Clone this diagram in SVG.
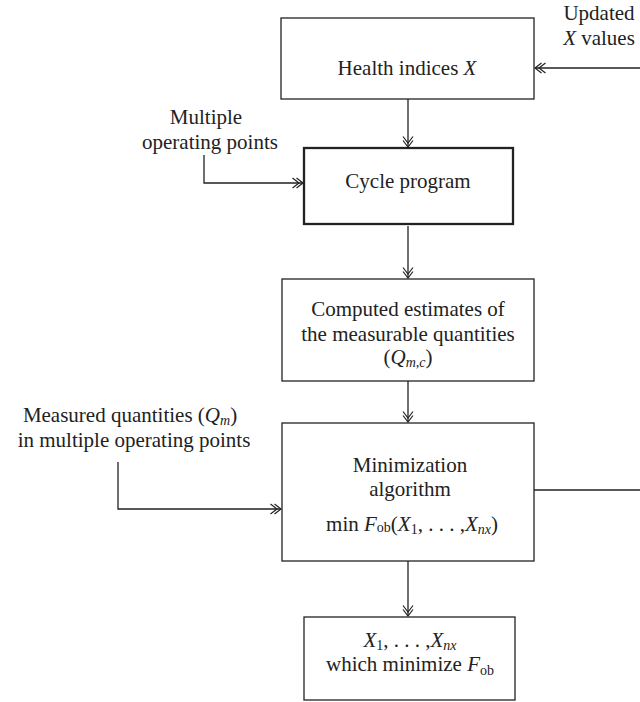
<svg xmlns="http://www.w3.org/2000/svg" width="640" height="702" viewBox="0 0 640 702">
<style>
  .box{fill:#fff;stroke:#222;stroke-width:1.3}
  .thick{stroke-width:2.3}
  .t{font-family:"Liberation Serif","Times New Roman",serif;font-size:21px;fill:#222;text-anchor:middle}
  .i{font-style:italic}
  .sub{font-size:14px}
  .ln{fill:none;stroke:#222;stroke-width:1.3}
  .arr{marker-end:url(#dbl)}
</style>
<defs>
  <marker id="dbl" markerUnits="userSpaceOnUse" markerWidth="16" markerHeight="14" viewBox="-13 -7 15 14" refX="0" refY="0" orient="auto">
    <path d="M-6.5,-5 L0,0 L-6.5,5 M-10.5,-5 L-4,0 L-10.5,5" fill="none" stroke="#222" stroke-width="1.2"/>
  </marker>
</defs>
<rect width="640" height="702" fill="#fff"/>

<g id="connectors">
  <path class="ln arr" d="M640,68 H535"/>
  <path class="ln arr" d="M408,99 V147"/>
  <path class="ln arr" d="M204,155 V183 H303"/>
  <path class="ln arr" d="M408,226 V278"/>
  <path class="ln arr" d="M408,381 V422"/>
  <path class="ln arr" d="M118,462 V509 H281"/>
  <path class="ln" d="M534,490 H640"/>
  <path class="ln arr" d="M408,561 V616"/>
</g>

<g id="updated-label">
  <text class="t" x="599" y="20">Updated</text>
  <text class="t" x="599" y="45"><tspan class="i">X</tspan> values</text>
</g>

<g id="health">
  <rect class="box" x="281" y="18" width="253" height="81"/>
  <text class="t" x="407" y="75">Health indices <tspan class="i">X</tspan></text>
</g>

<g id="multiple-label">
  <text class="t" x="206" y="124">Multiple</text>
  <text class="t" x="210" y="149">operating points</text>
</g>

<g id="cycle">
  <rect class="box thick" x="304" y="148" width="209" height="76"/>
  <text class="t" x="408" y="188">Cycle program</text>
</g>

<g id="computed">
  <rect class="box" x="282" y="279" width="252" height="102"/>
  <text class="t" x="408" y="316">Computed estimates of</text>
  <text class="t" x="408" y="341">the measurable quantities</text>
  <text class="t" x="408" y="364">(<tspan class="i">Q</tspan><tspan class="i sub" dy="3">m,c</tspan><tspan dy="-3">)</tspan></text>
</g>

<g id="measured-label">
  <text class="t" x="130" y="422">Measured quantities (<tspan class="i">Q</tspan><tspan class="i sub" dy="3">m</tspan><tspan dy="-3">)</tspan></text>
  <text class="t" x="134" y="447">in multiple operating points</text>
</g>

<g id="minimization">
  <rect class="box" x="282" y="423" width="252" height="138"/>
  <text class="t" x="410" y="472">Minimization</text>
  <text class="t" x="410" y="496">algorithm</text>
  <text class="t" x="412" y="531">min <tspan class="i">F</tspan><tspan class="sub" dy="1">ob</tspan><tspan dy="-1">(</tspan><tspan class="i">X</tspan><tspan class="sub" dy="3">1</tspan><tspan dy="-3">, . . . ,</tspan><tspan class="i">X</tspan><tspan class="i sub" dy="3">nx</tspan><tspan dy="-3">)</tspan></text>
</g>

<g id="result">
  <rect class="box" x="304" y="617" width="211" height="83"/>
  <text class="t" x="410" y="647"><tspan class="i">X</tspan><tspan class="sub" dy="3">1</tspan><tspan dy="-3">, . . . ,</tspan><tspan class="i">X</tspan><tspan class="i sub" dy="3">nx</tspan></text>
  <text class="t" x="410" y="671">which minimize <tspan class="i">F</tspan><tspan class="sub" dy="4">ob</tspan></text>
</g>
</svg>
